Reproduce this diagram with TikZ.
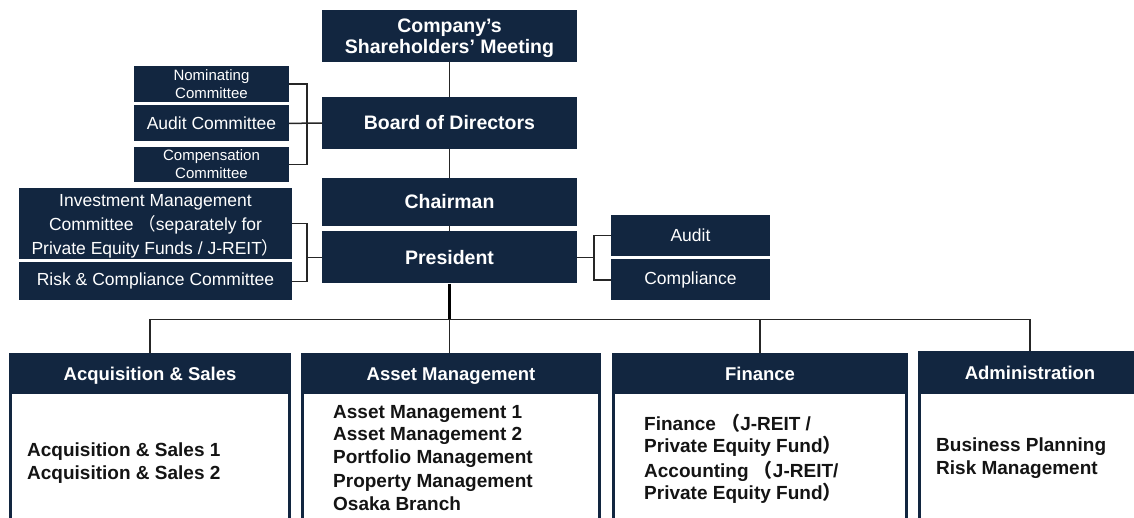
\documentclass[tikz,border=0pt]{standalone}
\usepackage{fontspec}
\setmainfont{Liberation Sans}
\newfontfamily\cjk{Noto Sans CJK JP}
\usetikzlibrary{positioning}
\definecolor{navy}{HTML}{122640}
\newcommand{\lpar}{{\cjk （}}
\newcommand{\rpar}{{\cjk ）}}
\tikzset{%
	topbox/.style   = {fill=navy, text=white, inner sep=0pt, minimum width=255pt, minimum height=52pt, align=center, font=\fontsize{19.5}{21}\selectfont\bfseries},
	cmtbox/.style   = {fill=navy, text=white, inner sep=0pt, align=center, font=\fontsize{17.5}{24}\selectfont},
	smallbox/.style = {cmtbox, minimum width=155pt, minimum height=36pt, font=\fontsize{15}{17.5}\selectfont},
	headbox/.style  = {fill=navy, text=white, inner sep=0pt, minimum height=39pt, text height=15pt, text depth=0pt, font=\fontsize{18.5}{20}\selectfont\bfseries},
	deptbody/.style = {draw=navy, fill=white, line width=3pt},
	bodytext/.style = {anchor=north west, inner sep=0pt, align=left, text=black!92, font=\fontsize{19}{22.5}\selectfont\bfseries},
	link/.style     = {line width=1.5pt, draw=black!85},
	trunk/.style    = {line width=2.7pt, draw=black},
}
\begin{document}
\begin{tikzpicture}[x=1pt,y=-1pt]
	\useasboundingbox (0,0) rectangle (1134,517);
	\clip (0,0) rectangle (1134,517);
	
	% main line
	\node[topbox] (meet) at (449.5,36) {\rule{0pt}{19pt}Company’s\\Shareholders’ Meeting};
	\node[topbox] (board) at (449.5,123) {Board of Directors};
	\node[topbox, minimum height=48pt] (chair) at (449.5,202) {Chairman};
	\node[topbox, below=5pt of chair] (pres) {President};
	
	% committees
	\node[smallbox] (nom) at (211.5,84) {Nominating\\Committee};
	\node[cmtbox, minimum width=155pt, minimum height=36pt, below=3pt of nom] (audc) {Audit Committee};
	\node[smallbox, minimum height=35pt, below=5pt of audc] (comp) {Compensation\\Committee};
	\node[cmtbox, minimum width=273pt, minimum height=71pt] (inv) at (155.5,223.5) {\rule{0pt}{18pt}Investment Management\\Committee \lpar separately for\\Private Equity Funds / J-REIT\rpar};
	\node[cmtbox, minimum width=273pt, minimum height=38pt, below=3pt of inv] (risk) {Risk \& Compliance Committee};
	\node[cmtbox, minimum width=159pt, minimum height=41pt] (aud) at (690.5,235.5) {Audit};
	\node[cmtbox, minimum width=159pt, minimum height=41pt, below=3pt of aud] (compl) {Compliance};
	
	% departments
	\foreach \cx/\wd in {150/282, 451/300, 760/296, 1030/224}
		\draw[deptbody] (\cx-\wd/2+1.5,392) rectangle (\cx+\wd/2-1.5,540);
	\node[headbox, minimum width=282pt] (acq) at (150,372.5) {Acquisition \& Sales};
	\node[headbox, minimum width=300pt] (asset) at (451,372.5) {Asset Management};
	\node[headbox, minimum width=296pt] (fin) at (760,372.5) {Finance};
	\node[headbox, minimum width=224pt, minimum height=41pt] (adm) at (1030,371.5) {Administration};
	
	\node[bodytext] (acqtxt) at (27,443) {Acquisition \& Sales 1\\Acquisition \& Sales 2};
	\node[bodytext] (assettxt) at (333,405) {Asset Management 1\\Asset Management 2\\Portfolio Management\\[2pt]Property Management\\Osaka Branch};
	\node[bodytext] (fintxt) at (644,413.5) {Finance \lpar J-REIT /\\Private Equity Fund\rpar\\[2pt]Accounting \lpar J-REIT/\\Private Equity Fund\rpar};
	\node[bodytext] (admtxt) at (936,438) {Business Planning\\Risk Management};
	
	% connectors
	\draw[link] (meet) -- (board);
	\draw[link] (board) -- (chair);
	\draw[link] (chair) -- (pres);
	\draw[link] (nom.east) -- ++(18,0) |- (comp.east);
	\draw[link] (audc.east) -- (board.west);
	\draw[link] (inv.east) -- ++(15,0) |- (risk.east);
	\draw[link] (pres.west) -- ++(-15,0);
	\draw[link] (aud.west) -- ++(-17,0) |- (compl.west);
	\draw[link] (pres.east) -- ++(17,0);
	
	\coordinate[below=36pt of pres] (bus);
	\draw[trunk] (pres.south) -- (bus);
	\draw[link] (acq.north) |- (bus) -| (adm.north);
	\draw[link] (bus) -- (bus |- asset.north);
	\draw[link] (fin.north) -- (fin.north |- bus);
\end{tikzpicture}
\end{document}
